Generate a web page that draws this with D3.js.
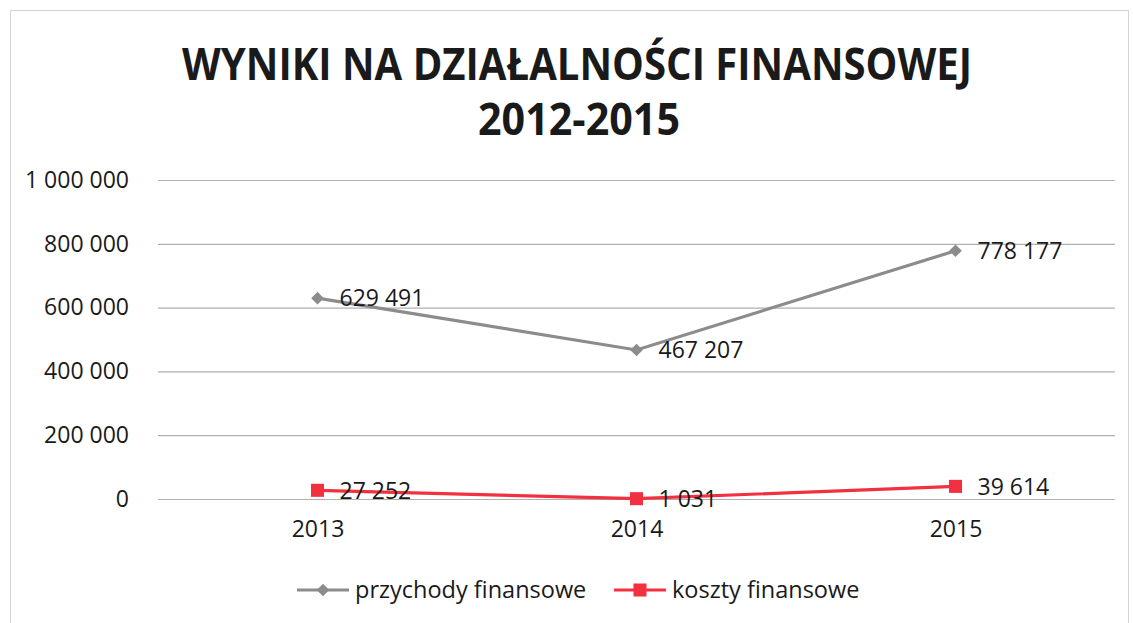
<!DOCTYPE html>
<html>
<head>
<meta charset="utf-8">
<script src="https://cdn.jsdelivr.net/npm/d3@7"></script>
<style>
  body { margin: 0; background: #fff; }
  svg text { font-family: "Open Sans", Calibri, sans-serif; fill: #1a1a1a; }
</style>
</head>
<body>
<div id="chart"></div>
<script>
const years = ["2013", "2014", "2015"];
const przychody = [629491, 467207, 778177];
const koszty = [27252, 1031, 39614];
const yTicks = [0, 200000, 400000, 600000, 800000, 1000000];
const titleLines = ["WYNIKI NA DZIAŁALNOŚCI FINANSOWEJ", "2012-2015"];
const seriesNames = ["przychody finansowe", "koszty finansowe"];

const width = 1133;
const height = 623;
const margin = { top: 180, right: 18, bottom: 124, left: 158 };

const plFormat = d3.formatLocale({ decimal: ",", thousands: "\u00a0", grouping: [3], currency: ["", " zł"] }).format(",d");

// diamond = square turned 45deg (the excel marker is not stretched)
const series = [
  { name: seriesNames[0], values: przychody, color: "#8c8c8c", marker: d3.symbolSquare, size: 80, rotate: 45 },
  { name: seriesNames[1], values: koszty, color: "#f2303f", marker: d3.symbolSquare, size: 170, rotate: 0 },
];

const svg = d3
  .select("#chart")
  .append("svg")
  .attr("width", width)
  .attr("height", height);

// chart frame
svg
  .append("rect")
  .attr("x", 10.5)
  .attr("y", 10.5)
  .attr("width", 1118)
  .attr("height", 640)
  .attr("fill", "none")
  .attr("stroke", "#d4d4d4");

const xScale = d3
  .scalePoint()
  .domain(years)
  .range([margin.left, width - margin.right])
  .padding(0.5);

const yScale = d3
  .scaleLinear()
  .domain([0, 1000000])
  .range([height - margin.bottom, margin.top]);

// title
svg
  .append("text")
  .attr("x", 577)
  .attr("y", 80)
  .attr("text-anchor", "middle")
  .attr("textLength", 790)
  .attr("lengthAdjust", "spacingAndGlyphs")
  .style("font-size", "44px")
  .style("font-weight", "bold")
  .text(titleLines[0]);

svg
  .append("text")
  .attr("x", 579)
  .attr("y", 135)
  .attr("text-anchor", "middle")
  .attr("textLength", 202)
  .attr("lengthAdjust", "spacingAndGlyphs")
  .style("font-size", "44px")
  .style("font-weight", "bold")
  .text(titleLines[1]);

// gridlines + y axis
const yAxis = d3
  .axisLeft(yScale)
  .tickValues(yTicks)
  .tickFormat(plFormat)
  .tickSize(-(width - margin.left - margin.right))
  .tickPadding(29);

const yG = svg
  .append("g")
  .attr("transform", `translate(${margin.left}, 0)`)
  .call(yAxis);
yG.select(".domain").remove();
yG.selectAll(".tick line").attr("stroke", "#b0b0b0").attr("stroke-width", 1.2);
yG.selectAll(".tick text")
  .style("font-size", "23px")
  .style("font-family", '"Open Sans", Calibri, sans-serif')
  .attr("fill", "#1a1a1a");

// x axis labels
const xAxis = d3.axisBottom(xScale).tickSize(0).tickPadding(22);
const xG = svg
  .append("g")
  .attr("transform", `translate(0, ${yScale(0)})`)
  .call(xAxis);
xG.select(".domain").remove();
xG.selectAll(".tick text")
  .style("font-size", "23px")
  .style("font-family", '"Open Sans", Calibri, sans-serif')
  .attr("fill", "#1a1a1a");

const line = d3
  .line()
  .x((d, i) => xScale(years[i]))
  .y((d) => yScale(d));

series.forEach((s) => {
  svg
    .append("path")
    .datum(s.values)
    .attr("d", line)
    .attr("fill", "none")
    .attr("stroke", s.color)
    .attr("stroke-width", 3.2);

  svg
    .selectAll(null)
    .data(s.values)
    .enter()
    .append("path")
    .attr("d", d3.symbol().type(s.marker).size(s.size))
    .attr("transform", (d, i) => `translate(${xScale(years[i])}, ${yScale(d)}) rotate(${s.rotate})`)
    .attr("fill", s.color);

  svg
    .selectAll(null)
    .data(s.values)
    .enter()
    .append("text")
    .attr("x", (d, i) => xScale(years[i]) + 22)
    .attr("y", (d) => yScale(d))
    .attr("dy", "0.36em")
    .style("font-size", "23px")
    .text((d) => plFormat(d));
});

// legend
const legendItems = [
  { x: 297, textX: 355 },
  { x: 614, textX: 672 },
];
const legendY = 590;
series.forEach((s, i) => {
  const g = svg.append("g");
  g.append("line")
    .attr("x1", legendItems[i].x)
    .attr("x2", legendItems[i].x + 52)
    .attr("y1", legendY)
    .attr("y2", legendY)
    .attr("stroke", s.color)
    .attr("stroke-width", 3.2);
  g.append("path")
    .attr("d", d3.symbol().type(s.marker).size(s.size))
    .attr("transform", `translate(${legendItems[i].x + 26}, ${legendY}) rotate(${s.rotate})`)
    .attr("fill", s.color);
  g.append("text")
    .attr("x", legendItems[i].textX)
    .attr("y", legendY)
    .attr("dy", "0.36em")
    .style("font-size", "23.5px")
    .text(s.name);
});
</script>
</body>
</html>
